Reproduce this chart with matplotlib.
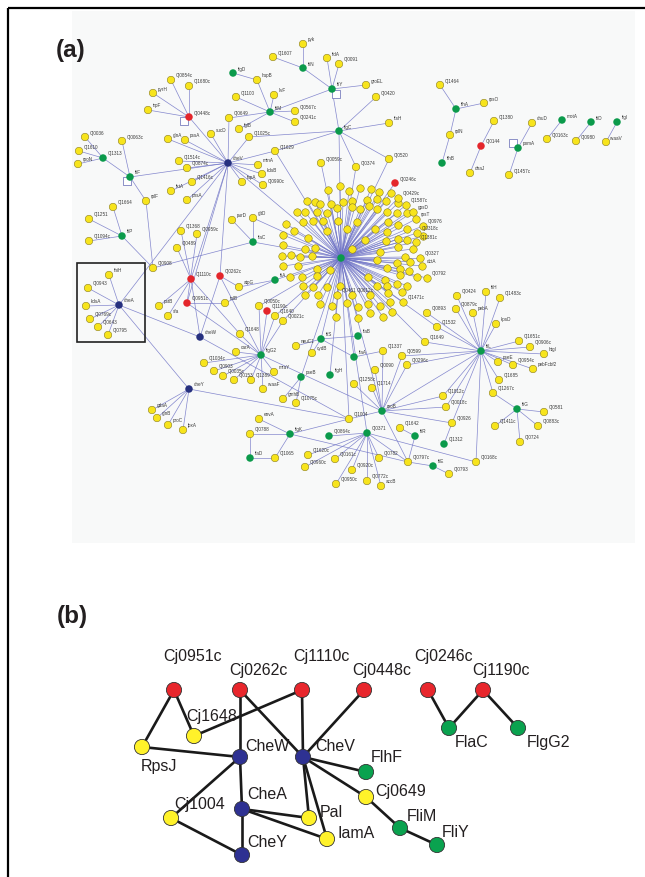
import matplotlib.pyplot as plt
from matplotlib.collections import LineCollection
from matplotlib.patches import Rectangle

# ---------------- panel (a) data (pixel positions) ----------------
a_names = ["_hub",
    "pyk", "Cj1607", "fliN", "fldA", "Cj0091", "fliY", "flgD", "hupB", "Cj1100", "livF",
    "fliM", "Cj0567c", "Cj0241c", "Cj0649", "fglB", "Cj1025c", "flgC", "Cj0854c", "Cj1680c", "pyrH",
    "trpF", "Cj0448c", "sucD", "glnA", "pssA", "cheV", "Cj1514c", "Cj0874c", "mtnA", "kdsB",
    "fapA", "Cj0990c", "Cj1629", "Cj0059c", "Cj0036", "Cj1610", "rpoN", "Cj1313", "Cj0063c", "fliF",
    "Cj1416c", "tktA", "pnsA", "rplF", "Cj1664", "Cj1251", "Cj1094c", "fliP", "Cj1368", "Cj0959c",
    "Cj0489", "Cj0908", "purD", "gltD", "flaC", "Cj1110c", "Cj0262c", "atpG", "Cj0951c", "tolB",
    "pstB", "sfa", "fliA", "thiH", "Cj0943", "kdsA", "cheA", "Cj0769c", "Cj0643", "Cj0795",
    "cheW", "Cj1648", "Cj0050c", "Cj1190c", "Cj1640", "Cj0021c", "flgG2", "carA", "Cj1034c", "Cj0903",
    "Cj0035c", "Cj0153", "Cj1389", "mraY", "waaF", "cheY", "neuC1", "fliS", "cydB", "flaB",
    "flaA", "Cj1337", "Cj0599", "Cj0296c", "Cj0090", "flgH", "pseB", "Cj1258c", "Cj1714", "gmhB",
    "Cj1075c", "Cj1649", "Cj1532", "Cj0893", "Cj0424", "Cj0879c", "pebA", "fliH", "Cj1483c", "kpsD",
    "fliL", "Cj1651c", "Cj0906c", "htgI", "Cj0954c", "pseE", "pebFcbf2", "Cj1685", "Cj1267c", "Cj1812c",
    "Cj0018c", "Cj0926", "Cj1312", "Cj1642", "fliR", "Cj0797c", "fliE", "Cj0793", "Cj0168c", "fliG",
    "Cj0581", "Cj0883c", "Cj0724", "Cj1411c", "gdaA", "glnB", "proC", "lpxA", "Cj1004", "rpoB",
    "Cj0371", "Cj0864c", "flgK", "envA", "Cj0788", "flaD", "Cj1065", "Cj1620c", "Cj0960c", "Cj0161c",
    "Cj0920c", "Cj0950c", "Cj0772c", "accB", "Cj0782", "groEL", "Cj0420", "ftsH", "Cj0520", "Cj0374",
    "Cj0246c", "Cj1464", "flhA", "rpsO", "rplN", "flhB", "Cj1380", "Cj0144", "dnaJ", "chuD",
    "pomA", "Cj1457c", "motA", "Cj0163c", "fliD", "Cj0980", "flgI", "waaV"]
a_x = [341,
    303, 273, 303, 327, 339, 332, 233, 257, 236, 274,
    270, 295, 295, 229, 239, 249, 339, 171, 189, 153,
    148, 189, 211, 168, 185, 228, 179, 187, 258, 262,
    242, 263, 275, 321, 85, 79, 78, 103, 122, 130,
    192, 171, 187, 146, 113, 89, 89, 122, 181, 197,
    177, 153, 232, 253, 253, 191, 220, 239, 187, 225,
    159, 168, 275, 109, 88, 86, 119, 90, 98, 108,
    200, 240, 259, 267, 275, 283, 261, 236, 204, 214,
    223, 234, 251, 274, 263, 189, 296, 321, 312, 358,
    354, 383, 402, 407, 375, 330, 301, 354, 372, 283,
    296, 425, 437, 427, 457, 456, 473, 486, 500, 496,
    481, 519, 530, 544, 513, 498, 533, 499, 493, 443,
    446, 452, 444, 400, 415, 408, 433, 449, 476, 517,
    544, 538, 520, 495, 152, 157, 168, 183, 349, 382,
    367, 329, 290, 259, 250, 250, 275, 308, 305, 335,
    352, 336, 367, 381, 379, 366, 376, 389, 389, 356,
    395, 440, 456, 484, 450, 442, 494, 481, 470, 532,
    518, 509, 562, 547, 591, 576, 617, 606]
a_y = [259,
    45, 58, 69, 59, 65, 90, 74, 81, 98, 96,
    113, 112, 123, 119, 130, 138, 132, 81, 87, 94,
    111, 118, 135, 140, 141, 164, 162, 169, 166, 175,
    183, 186, 152, 164, 138, 152, 165, 159, 142, 178,
    183, 192, 201, 202, 208, 220, 242, 237, 232, 235,
    249, 269, 221, 219, 243, 280, 277, 288, 304, 304,
    307, 317, 281, 276, 289, 307, 306, 320, 328, 336,
    338, 335, 307, 312, 317, 322, 356, 353, 364, 372,
    377, 381, 381, 373, 390, 390, 347, 340, 354, 337,
    358, 352, 357, 366, 371, 376, 378, 385, 389, 400,
    404, 343, 328, 314, 297, 310, 314, 293, 299, 325,
    352, 342, 348, 355, 366, 363, 370, 381, 394, 397,
    408, 424, 445, 429, 437, 463, 467, 475, 463, 410,
    413, 427, 443, 427, 411, 419, 426, 431, 420, 412,
    434, 437, 435, 420, 435, 459, 459, 456, 468, 460,
    471, 485, 482, 487, 459, 86, 98, 124, 160, 168,
    184, 86, 110, 104, 136, 164, 122, 147, 174, 124,
    149, 176, 121, 140, 123, 142, 123, 143]
a_kind = ("g"
    "yygyyggyyy"
    "gyyyyyg" "yyy"
    "yryyybyyyy"
    "yyyyyyygyg"
    "yyyyyyyg" "yy"
    "yyyygrryry"
    "yygyyybyyy"
    "byyryygyyy"
    "yyyyybygyg"
    "gyyyyggyyy"
    "yyyyyyyyyy"
    "gyyyyyyyyy"
    "yygygygyyg"
    "yyyyyyyyyg"
    "gggyygyyyy"
    "yyyyyyyyyy"
    "ryg" "yygyryy"
    "gygygygy")

# labelled members of the central cluster
cl_names = ["Cj0429c", "Cj1587c", "gpsD", "rpsT", "Cj0976", "Cj0318c", "Cj1381c",
            "Cj0327", "dctA", "Cj0792", "Cj1471c", "Cj0461", "Cj0612c"]
cl_x = [398, 406, 413, 416, 423, 417, 416, 420, 422, 427, 403, 337, 352]
cl_y = [199, 206, 213, 220, 227, 234, 243, 259, 267, 279, 303, 296, 296]

# unlabelled members of the central cluster
cloud_x = [328, 340, 349, 360, 371, 379, 391,
           315, 307, 320, 331, 343, 352, 367, 377, 386, 398,
           297, 305, 317, 327, 337, 352, 360, 369, 377, 387, 397, 407,
           286, 303, 313, 323, 338, 357, 375, 388, 398, 407,
           283, 294, 308, 327, 347, 365, 387, 386, 398, 407, 423,
           283, 305, 315, 352, 380, 398, 413, 405,
           282, 291, 300, 312, 377, 397, 410,
           283, 298, 317, 387, 400, 409,
           290, 302, 317, 330, 368, 385, 400, 417,
           303, 313, 327, 340, 377, 387, 397, 407,
           305, 318, 370, 388, 402,
           320, 332, 347, 358, 368, 380, 390,
           336, 358, 370, 383, 392]
cloud_y = [191, 187, 192, 189, 190, 193, 194,
           203, 202, 205, 205, 203, 202, 201, 200, 202, 204,
           213, 213, 213, 214, 209, 208, 210, 207, 210, 213, 214, 214,
           225, 223, 222, 222, 222, 223, 230, 223, 226, 230,
           236, 232, 239, 232, 230, 241, 233, 242, 240, 241, 237,
           246, 250, 249, 250, 253, 248, 250, 258,
           257, 256, 258, 257, 261, 264, 263,
           267, 267, 270, 269, 270, 272,
           278, 278, 277, 271, 278, 281, 276, 278,
           287, 288, 288, 287, 287, 287, 285, 287,
           296, 296, 296, 294, 293,
           305, 307, 304, 308, 305, 307, 303,
           318, 319, 314, 318, 313]

a_edges = [
    ("fliN", "pyk"), ("fliN", "Cj1607"), ("fliN", "fliY"),
    ("fliY", "fldA"), ("fliY", "Cj0091"), ("fliY", "fliM"), ("fliY", "groEL"), ("fliY", "flgC"),
    ("flgD", "hupB"), ("hupB", "fliM"),
    ("fliM", "Cj1100"), ("fliM", "livF"), ("fliM", "Cj0567c"), ("fliM", "Cj0241c"),
    ("fliM", "Cj0649"), ("fliM", "fglB"),
    ("flgC", "Cj0420"), ("flgC", "ftsH"), ("flgC", "Cj0520"), ("flgC", "Cj0374"),
    ("flgC", "Cj1025c"), ("flgC", "Cj1629"),
    ("Cj0448c", "Cj0854c"), ("Cj0448c", "Cj1680c"), ("Cj0448c", "pyrH"), ("Cj0448c", "trpF"),
    ("Cj0448c", "cheV"),
    ("cheV", "sucD"), ("cheV", "glnA"), ("cheV", "pssA"), ("cheV", "Cj1514c"), ("cheV", "Cj0874c"),
    ("cheV", "mtnA"), ("cheV", "kdsB"), ("cheV", "fapA"), ("cheV", "Cj0990c"), ("cheV", "Cj1629"),
    ("cheV", "fliF"), ("cheV", "Cj1416c"), ("cheV", "tktA"), ("cheV", "pnsA"), ("cheV", "Cj0649"),
    ("cheV", "Cj1110c"), ("cheV", "Cj0262c"), ("cheV", "Cj0951c"), ("cheV", "cheA"),
    ("cheV", "_hub"), ("cheV", "Cj1025c"),
    ("Cj1313", "Cj0036"), ("Cj1313", "Cj1610"), ("Cj1313", "rpoN"), ("Cj1313", "fliF"),
    ("fliF", "Cj0063c"), ("fliF", "rplF"), ("rplF", "Cj0908"),
    ("fliP", "Cj1664"), ("fliP", "Cj1251"), ("fliP", "Cj1094c"), ("fliP", "Cj0908"),
    ("Cj0908", "flaC"), ("flaC", "purD"), ("flaC", "gltD"), ("flaC", "_hub"),
    ("Cj1110c", "Cj1368"), ("Cj1110c", "Cj0489"), ("Cj1110c", "pstB"), ("Cj1110c", "sfa"),
    ("Cj1110c", "Cj1648"),
    ("Cj0262c", "cheW"), ("Cj0262c", "atpG"), ("Cj0262c", "flgG2"),
    ("Cj0951c", "Cj0959c"), ("Cj0951c", "tolB"), ("Cj0951c", "flgG2"),
    ("tolB", "fliA"), ("atpG", "fliA"), ("fliA", "_hub"),
    ("cheA", "thiH"), ("cheA", "Cj0943"), ("cheA", "kdsA"), ("cheA", "Cj0769c"),
    ("cheA", "Cj0643"), ("cheA", "Cj0795"), ("cheA", "cheW"), ("cheA", "cheY"),
    ("cheW", "Cj1004"), ("cheW", "Cj1110c"),
    ("cheY", "gdaA"), ("cheY", "glnB"), ("cheY", "proC"), ("cheY", "lpxA"), ("cheY", "Cj1004"),
    ("flgG2", "Cj1190c"), ("flgG2", "carA"), ("flgG2", "Cj1034c"), ("flgG2", "Cj0903"),
    ("flgG2", "Cj0035c"), ("flgG2", "Cj0153"), ("flgG2", "Cj1389"), ("flgG2", "mraY"),
    ("flgG2", "waaF"), ("flgG2", "Cj1648"), ("flgG2", "Cj0050c"), ("flgG2", "Cj1640"),
    ("flgG2", "Cj0021c"), ("flgG2", "rpoB"),
    ("fliS", "neuC1"), ("fliS", "flaB"), ("fliS", "flaA"), ("fliS", "_hub"), ("fliS", "cydB"),
    ("flaA", "Cj1337"), ("Cj1337", "rpoB"),
    ("pseB", "gmhB"), ("pseB", "Cj1075c"), ("pseB", "_hub"), ("flgH", "_hub"),
    ("Cj1004", "flgK"), ("Cj1004", "rpoB"), ("Cj1004", "_hub"),
    ("rpoB", "Cj1258c"), ("rpoB", "Cj1714"), ("rpoB", "Cj0599"), ("rpoB", "Cj0296c"),
    ("rpoB", "Cj0090"), ("rpoB", "Cj1812c"), ("rpoB", "Cj0018c"), ("rpoB", "Cj0926"),
    ("rpoB", "fliL"), ("rpoB", "Cj0797c"), ("rpoB", "_hub"),
    ("Cj0371", "Cj0864c"), ("Cj0371", "Cj1620c"), ("Cj0371", "Cj0960c"), ("Cj0371", "Cj0161c"),
    ("Cj0371", "Cj0920c"), ("Cj0371", "Cj0950c"), ("Cj0371", "Cj0772c"), ("Cj0371", "accB"),
    ("Cj0371", "Cj0782"), ("Cj0371", "Cj0797c"), ("Cj0371", "Cj0168c"),
    ("flgK", "envA"), ("flgK", "Cj0788"), ("flgK", "Cj1065"), ("flgK", "Cj0797c"),
    ("flaD", "Cj0788"), ("flaD", "Cj1065"),
    ("Cj0926", "Cj1312"), ("fliR", "Cj1642"), ("fliR", "Cj0797c"),
    ("fliE", "Cj0797c"), ("fliE", "Cj0793"),
    ("fliL", "Cj0424"), ("fliL", "Cj0879c"), ("fliL", "pebA"), ("fliL", "fliH"), ("fliL", "Cj1483c"),
    ("fliL", "kpsD"), ("fliL", "Cj1651c"), ("fliL", "Cj0906c"), ("fliL", "htgI"), ("fliL", "Cj0954c"),
    ("fliL", "pseE"), ("fliL", "pebFcbf2"), ("fliL", "Cj1685"), ("fliL", "Cj1267c"),
    ("fliL", "Cj1812c"), ("fliL", "Cj0018c"), ("fliL", "Cj0926"), ("fliL", "Cj0168c"),
    ("fliL", "Cj1649"), ("fliL", "Cj1532"), ("fliL", "Cj0893"), ("fliL", "Cj0599"), ("fliL", "Cj0296c"),
    ("fliG", "Cj1267c"), ("fliG", "Cj0581"), ("fliG", "Cj0883c"), ("fliG", "Cj0724"), ("fliG", "Cj1411c"),
    ("Cj1649", "_hub"), ("Cj1532", "_hub"),
    ("flhA", "Cj1464"), ("flhA", "rpsO"), ("flhA", "rplN"), ("rplN", "flhB"),
    ("Cj0144", "Cj1380"), ("Cj0144", "dnaJ"),
    ("pomA", "chuD"), ("pomA", "Cj1457c"),
    ("motA", "Cj0163c"), ("fliD", "Cj0980"), ("flgI", "waaV"),
    ("Cj0059c", "_hub"), ("Cj0374", "_hub"), ("Cj0520", "_hub"), ("Cj0246c", "_hub"),
    ("gltD", "_hub"), ("Cj0050c", "_hub"), ("Cj1640", "_hub"), ("Cj0021c", "_hub"),
    ("Cj1629", "_hub"), ("flaA", "_hub"), ("Cj0371", "_hub"), ("flgC", "_hub"),
]

# small open squares next to some hubs
sq_x = [336, 184, 127, 513]
sq_y = [95, 122, 182, 144]

# ---------------- panel (b) data ----------------
b_names = ["Cj0951c", "Cj0262c", "Cj1110c", "Cj0448c", "Cj0246c", "Cj1190c", "Cj1648",
           "RpsJ", "CheW", "CheV", "FlhF", "Cj0649", "FliM", "FliY", "Cj1004", "CheA",
           "Pal", "IamA", "CheY", "FlaC", "FlgG2"]
b_x = [174, 240, 302, 364, 428, 483, 194, 142, 240, 303, 366, 366, 400, 437, 171, 242,
       309, 327, 242, 449, 518]
b_y = [691, 691, 691, 691, 691, 691, 737, 748, 758, 758, 773, 798, 829, 846, 819, 810,
       819, 840, 856, 729, 729]
b_kind = "rrrrrryybbgyggybyybgg"
b_edges = [("Cj0951c", "RpsJ"), ("Cj0951c", "Cj1648"), ("Cj1648", "Cj1110c"),
           ("Cj0262c", "CheW"), ("Cj0262c", "CheV"), ("Cj1110c", "CheV"), ("Cj0448c", "CheV"),
           ("RpsJ", "CheW"), ("CheW", "Cj1004"), ("CheW", "CheA"), ("CheA", "CheY"),
           ("Cj1004", "CheY"), ("CheA", "Pal"), ("CheA", "IamA"), ("CheV", "Pal"),
           ("CheV", "IamA"), ("CheV", "FlhF"), ("CheV", "Cj0649"), ("Cj0649", "FliM"),
           ("FliM", "FliY"), ("Cj0246c", "FlaC"), ("FlaC", "Cj1190c"), ("Cj1190c", "FlgG2")]

# label offsets for panel (b) (layout, not data)
b_dx = [19, 18, 19, 18, 16, 18, 18, 17, 27, 32, 21, 35, 22, 19, 29, 25, 22, 29, 25, 23, 30]
b_dy = [-34, -20, -34, -20, -34, -20, -20, 19, -11, -11, -15, -6, -12, -13, -14, -15, -6, -6, -13, 14, 14]

colors_a = {"y": "#f7e41c", "g": "#0b9a4b", "r": "#e4262b", "b": "#26307f"}
colors_b = {"y": "#fff22a", "g": "#0aa24f", "r": "#e8262c", "b": "#2e3192"}

plt.rcParams['font.family'] = ['Liberation Sans', 'DejaVu Sans']

fig = plt.figure(figsize=(6.45, 8.78), dpi=100)
ax = fig.add_axes([0, 0, 1, 1])
ax.set_xlim(0, 645)
ax.set_ylim(878, 0)
ax.axis('off')

# frame lines and panel (a) backdrop
ax.plot([8, 645], [9, 9], color='black', lw=1.6, solid_capstyle='butt')
ax.plot([8, 8], [9, 878], color='black', lw=1.6, solid_capstyle='butt')
ax.add_patch(Rectangle((72, 12), 563, 532, facecolor='#f8f9f9', edgecolor='none', zorder=0))

ax.text(71, 51, "(a)", fontsize=17.5, fontweight='bold', ha='center', va='center', color='#231f20')
ax.text(72, 617, "(b)", fontsize=17.5, fontweight='bold', ha='center', va='center', color='#231f20')

# ---- panel (a) ----
pos_a = {n: (x, y) for n, x, y in zip(a_names, a_x, a_y)}
for n, x, y in zip(cl_names, cl_x, cl_y):
    pos_a[n] = (x, y)
hub = pos_a["_hub"]

segs = [[pos_a[u], pos_a[v]] for u, v in a_edges]
segs += [[hub, (x, y)] for x, y in zip(cl_x, cl_y)]
segs += [[hub, (x, y)] for x, y in zip(cloud_x, cloud_y)]
ax.add_collection(LineCollection(segs, colors='#6f73c6', linewidths=0.5, alpha=0.85, zorder=1))

ax.scatter(sq_x, sq_y, s=32, marker='s', facecolor='white', edgecolor='#7a7fbf', linewidths=0.6, zorder=2)

ax.scatter(cloud_x, cloud_y, s=29, color=colors_a["y"], edgecolor='#8a7d20', linewidths=0.4, zorder=3)
ax.scatter(cl_x, cl_y, s=29, color=colors_a["y"], edgecolor='#8a7d20', linewidths=0.4, zorder=3)
ax.scatter(a_x, a_y, s=29, c=[colors_a[k] for k in a_kind],
           edgecolor=['#8a7d20' if k == 'y' else 'none' for k in a_kind], linewidths=0.4, zorder=3)

for n, x, y in list(zip(a_names, a_x, a_y)) + list(zip(cl_names, cl_x, cl_y)):
    if n.startswith('_'):
        continue
    ax.text(x + 4.5, y - 5, n, fontsize=3.3, color='#3a3a3a', ha='left', va='center', zorder=4)

ax.add_patch(Rectangle((77, 264), 68, 79, facecolor='none', edgecolor='#222222', lw=1.2, zorder=5))

# ---- panel (b) ----
pos_b = {n: (x, y) for n, x, y in zip(b_names, b_x, b_y)}
segs_b = [[pos_b[u], pos_b[v]] for u, v in b_edges]
ax.add_collection(LineCollection(segs_b, colors='#1a1a1a', linewidths=1.9, zorder=6))
ax.scatter(b_x, b_y, s=120, c=[colors_b[k] for k in b_kind], edgecolor='#333333',
           linewidths=0.6, zorder=7)
for n, x, y, dx, dy in zip(b_names, b_x, b_y, b_dx, b_dy):
    ax.text(x + dx, y + dy, n, fontsize=11.5, color='#231f20', ha='center', va='center', zorder=8)

fig.savefig("out.png", dpi=100, facecolor='white')
